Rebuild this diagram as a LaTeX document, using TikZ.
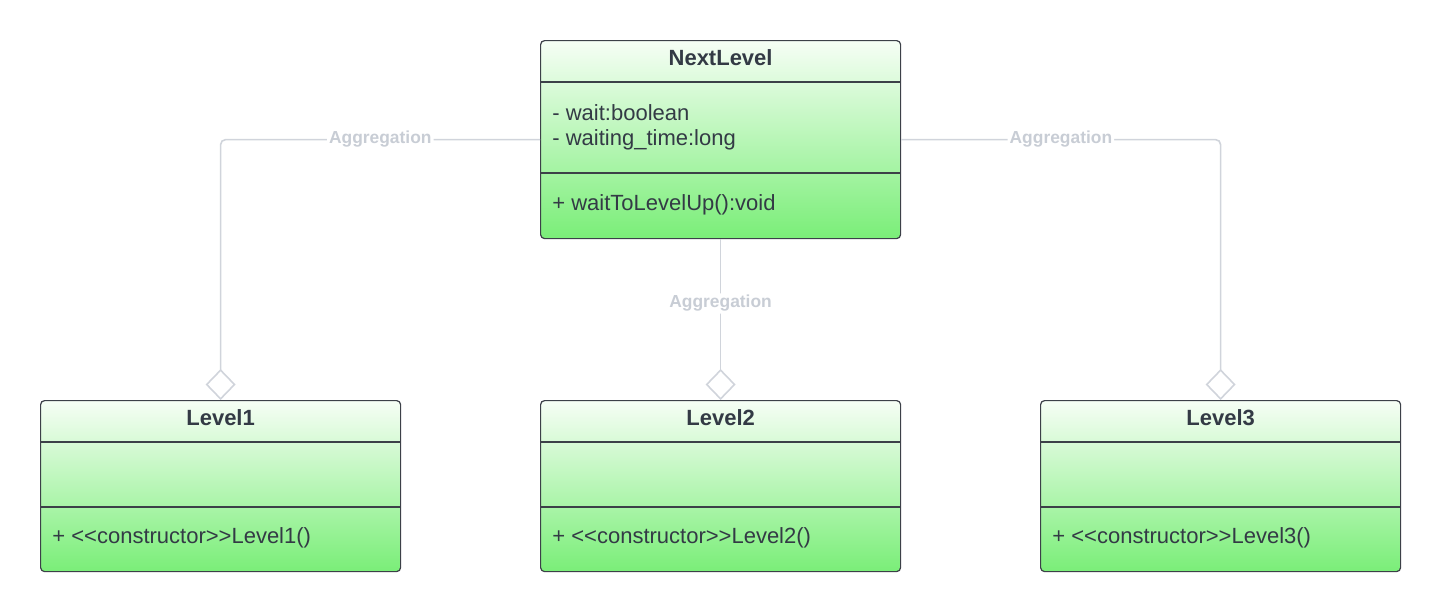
\documentclass[tikz,border=0pt]{standalone}
\usepackage{fontspec}
\setmainfont{Liberation Sans}
\usetikzlibrary{arrows.meta,calc}
\definecolor{txt}{RGB}{51,58,69}
\definecolor{edge}{RGB}{60,64,72}
\definecolor{gtop}{RGB}{246,254,245}
\definecolor{gbot}{RGB}{122,238,120}
\definecolor{aggc}{RGB}{208,212,219}
\definecolor{aggt}{RGB}{200,205,213}
\tikzset{
  classbox/.style={draw=edge, line width=0.6pt, rounded corners=2pt, anchor=north west,
    minimum width=180pt, top color=gtop, bottom color=gbot, shading angle=0, inner sep=0pt},
  sepline/.style={draw=edge, line width=0.6pt},
  title/.style={font=\bfseries\fontsize{11pt}{13pt}\selectfont, text=txt, inner sep=0pt},
  member/.style={font=\fontsize{11pt}{13pt}\selectfont, text=txt, inner sep=0pt, anchor=west},
  agg/.style={draw=aggc, line width=0.8pt, rounded corners=2.5pt,
    -{Diamond[open, length=15.5pt, width=15pt, line width=0.8pt]}},
  lbl/.style={font=\bfseries\fontsize{8.7pt}{10pt}\selectfont, text=aggt, fill=white, inner sep=1pt}
}
\begin{document}
\begin{tikzpicture}[x=0.5pt,y=-0.5pt]
\useasboundingbox (0,0) rectangle (1440,611);
% NextLevel
\node[classbox, minimum height=99pt] (next) at (540,40) {};
\draw[sepline] ([yshift=-21pt]next.north west) -- ([yshift=-21pt]next.north east);
\draw[sepline] ([yshift=-66.5pt]next.north west) -- ([yshift=-66.5pt]next.north east);
\node[title] (nt) at ([yshift=-9pt]next.north) {NextLevel};
\node[member] (na1) at ([xshift=6pt,yshift=-36.2pt]next.north west) {- wait:boolean};
\node[member] (na2) at ([xshift=6pt,yshift=-49.7pt]next.north west) {- waiting\_time:long};
\node[member] (nm1) at ([xshift=6pt,yshift=-82.5pt]next.north west) {+ waitToLevelUp():void};
% Levels
\foreach \n/\x in {1/40,2/540,3/1040}{
  \node[classbox, minimum height=85.5pt] (l\n) at (\x,400) {};
  \draw[sepline] ([yshift=-21pt]l\n.north west) -- ([yshift=-21pt]l\n.north east);
  \draw[sepline] ([yshift=-53.5pt]l\n.north west) -- ([yshift=-53.5pt]l\n.north east);
  \node[title] (l\n t) at ([yshift=-9pt]l\n.north) {Level\n};
  \node[member] (l\n m) at ([xshift=6pt,yshift=-69pt]l\n.north west) {+ <{}<constructor>{}>Level\n()};
}
% Connectors
\draw[agg] (next.west) -| node[lbl, pos=0.25, yshift=0.5pt] (a1) {Aggregation} (l1.north);
\draw[agg] (next.south) -- node[lbl, pos=0.4] (a2) {Aggregation} (l2.north);
\draw[agg] (next.east) -| node[lbl, pos=0.25, yshift=0.5pt] (a3) {Aggregation} (l3.north);
\end{tikzpicture}
\end{document}
